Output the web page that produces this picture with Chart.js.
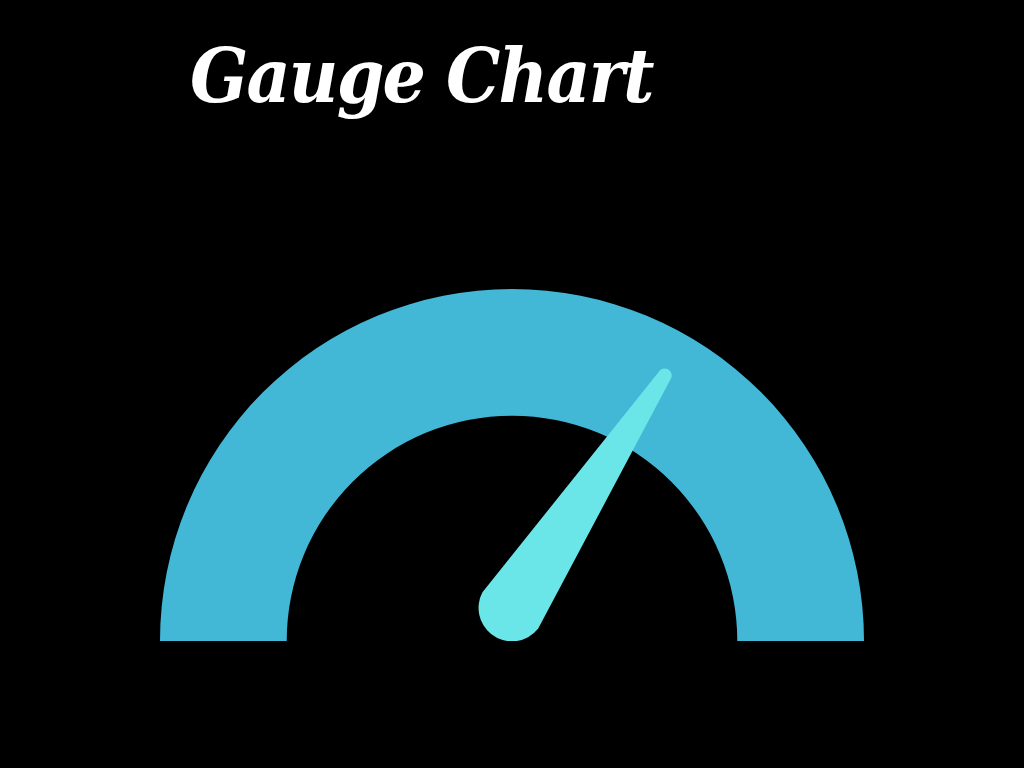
<!DOCTYPE html>
<html>
<head>
<meta charset="utf-8">
<script src="https://cdn.jsdelivr.net/npm/chart.js@4.4.0/dist/chart.umd.min.js"></script>
<style>
  html, body { margin: 0; padding: 0; background: #000; width: 1024px; height: 768px; overflow: hidden; }
  .title {
    position: absolute; left: 190px; top: 32px; margin: 0;
    font-family: "DejaVu Serif", serif; font-weight: bold; font-style: italic;
    font-size: 75px; color: #fff; white-space: nowrap; letter-spacing: -2px;
    transform: scaleX(0.91); transform-origin: left top;
  }
  .chart-wrapper { position: absolute; left: 160px; top: 289px; width: 704px; height: 352px; }
</style>
</head>
<body>
<h1 class="title">Gauge Chart</h1>
<div class="chart-wrapper"><canvas id="gauge"></canvas></div>
<script>
// gauge data
const segmentLabels = ['Range'];
const segmentValues = [100];
const segmentColors = ['#42b7d6'];
const gaugeMax = 100;
const needleValue = 68.5;

// draws the needle on top of the half doughnut
const needlePlugin = {
    id: 'needle',
    afterDatasetsDraw(chart) {
        const arc = chart.getDatasetMeta(0).data[0];
        if (!arc) return;
        const ctx = chart.ctx;
        const R = arc.outerRadius;
        const px = arc.x;
        const py = arc.y - R * 0.094;
        const rb = R * 0.095;
        const rt = R * 0.02;
        const len = R * 0.79;
        const a = Math.PI * (1 - needleValue / gaugeMax);
        const tx = px + Math.cos(a) * len;
        const ty = py - Math.sin(a) * len;
        const phi = Math.atan2(ty - py, tx - px);
        const beta = Math.asin((rb - rt) / len);
        ctx.save();
        ctx.fillStyle = '#6ae6e8';
        ctx.beginPath();
        ctx.arc(px, py, rb, phi + Math.PI / 2 + beta, phi + 3 * Math.PI / 2 - beta);
        ctx.arc(tx, ty, rt, phi - Math.PI / 2 - beta, phi + Math.PI / 2 + beta);
        ctx.closePath();
        ctx.fill();
        ctx.restore();
    }
};

new Chart(document.getElementById('gauge'), {
    type: 'doughnut',
    data: {
        labels: segmentLabels,
        datasets: [{
            data: segmentValues,
            backgroundColor: segmentColors,
            borderWidth: 0
        }]
    },
    options: {
        responsive: true,
        maintainAspectRatio: false,
        animation: false,
        rotation: -90,
        circumference: 180,
        cutout: '64%',
        layout: { padding: 0 },
        plugins: {
            legend: { display: false },
            tooltip: { enabled: false }
        }
    },
    plugins: [needlePlugin]
});
</script>
</body>
</html>
